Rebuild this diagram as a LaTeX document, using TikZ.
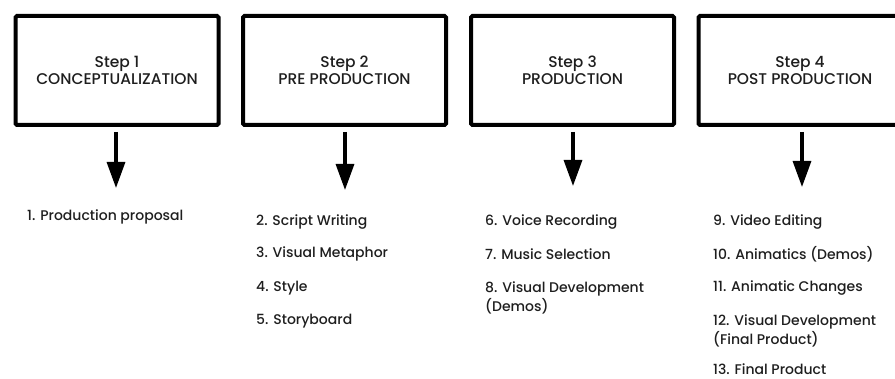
\documentclass[tikz,border=0pt]{standalone}
\usepackage{fontspec}
\setmainfont{Poppins Medium}
\usetikzlibrary{arrows.meta}
\definecolor{ink}{HTML}{1E1E1E}
\tikzset{
  stepbox/.style={draw=black, line width=4pt, rounded corners=1.5pt, minimum width=203pt, minimum height=109pt, inner sep=0pt, align=center, font=\fontsize{15.5}{17}\selectfont, text=ink},
  downarrow/.style={line width=3.2pt, shorten <=5pt, -{Triangle[width=18pt,length=26pt]}},
  item/.style={anchor=west, inner sep=0pt, align=left, font=\fontsize{14}{19}\selectfont, text=ink}
}
\begin{document}
\begin{tikzpicture}[x=1pt,y=-1pt]
\useasboundingbox (0,0) rectangle (895,379);
\clip (0,0) rectangle (895,379);
\node[stepbox] (s1) at (117,70.5) {Step 1\\CONCEPTUALIZATION};
\node[stepbox] (s2) at (344.5,70.5) {Step 2\\PRE PRODUCTION};
\node[stepbox] (s3) at (572.5,70.5) {Step 3\\PRODUCTION};
\node[stepbox] (s4) at (800,70.5) {Step 4\\POST PRODUCTION};
\coordinate (t1) at (116,188);
\coordinate (t2) at (345,190);
\coordinate (t3) at (573,186);
\coordinate (t4) at (802,187);
\draw[downarrow] (s1.south -| t1) -- (t1);
\draw[downarrow] (s2.south -| t2) -- (t2);
\draw[downarrow] (s3.south -| t3) -- (t3);
\draw[downarrow] (s4.south -| t4) -- (t4);
\node[item] (i1) at (27,217) {1. Production proposal};
\node[item] (i2) at (256,222) {2. Script Writing};
\node[item] (i3) at (256,254) {3. Visual Metaphor};
\node[item] (i4) at (256,288) {4. Style};
\node[item] (i5) at (256,321) {5. Storyboard};
\node[item] (i6) at (485,222) {6. Voice Recording};
\node[item] (i7) at (485,254) {7. Music Selection};
\node[item] (i8) at (485,297.5) {8. Visual Development\\(Demos)};
\node[item] (i9) at (713,222) {9. Video Editing};
\node[item] (i10) at (713,254) {10. Animatics (Demos)};
\node[item] (i11) at (713,288) {11. Animatic Changes};
\node[item] (i12) at (713,330.5) {12. Visual Development\\(Final Product)};
\node[item] (i13) at (713,369) {13. Final Product};
\end{tikzpicture}
\end{document}
